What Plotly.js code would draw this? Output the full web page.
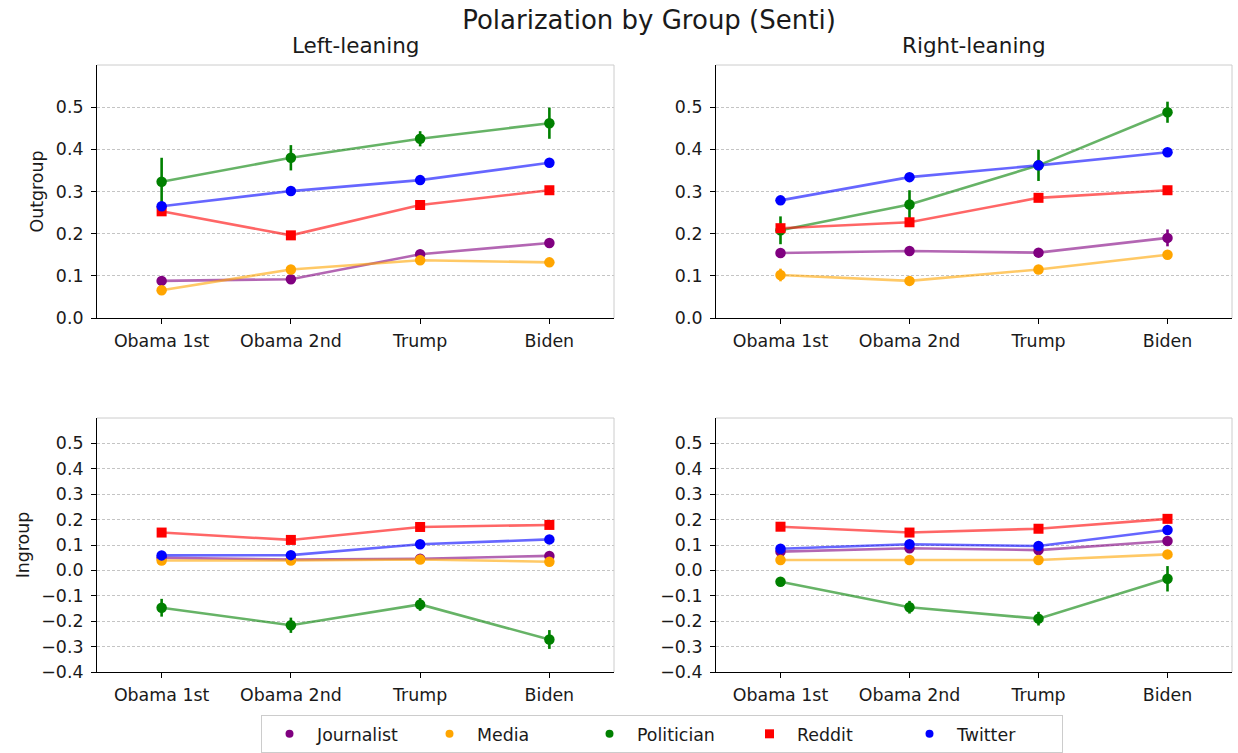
<!DOCTYPE html>
<html>
<head>
<meta charset="utf-8">
<script src="https://cdn.plot.ly/plotly-3.0.1.min.js"></script>
<style>html,body{margin:0;padding:0;background:#fff;}#chart{width:1238px;height:753px;}</style>
</head>
<body>
<div id="chart"></div>
<script>
const categories = ['Obama 1st', 'Obama 2nd', 'Trump', 'Biden'];
const groups = ['Journalist', 'Media', 'Politician', 'Reddit', 'Twitter'];
const panelTitles = ['Left-leaning', 'Right-leaning'];
const rowTitles = ['Outgroup', 'Ingroup'];
const outTicks = [0.0, 0.1, 0.2, 0.3, 0.4, 0.5];
const inTicks = [-0.4, -0.3, -0.2, -0.1, 0.0, 0.1, 0.2, 0.3, 0.4, 0.5];

// Left-leaning, Outgroup
const journalistLeftOut = [0.088, 0.092, 0.151, 0.178];
const mediaLeftOut      = [0.066, 0.115, 0.137, 0.132];
const politicianLeftOut = [0.323, 0.380, 0.425, 0.462];
const redditLeftOut     = [0.253, 0.196, 0.268, 0.303];
const twitterLeftOut    = [0.265, 0.301, 0.327, 0.368];
const journalistLeftOutErr = [0.006, 0.006, 0.006, 0.006];
const mediaLeftOutErr      = [0.006, 0.006, 0.006, 0.006];
const politicianLeftOutErr = [0.057, 0.030, 0.018, 0.037];
const redditLeftOutErr     = [0.003, 0.003, 0.003, 0.003];
const twitterLeftOutErr    = [0.003, 0.003, 0.003, 0.003];

// Right-leaning, Outgroup
const journalistRightOut = [0.154, 0.159, 0.155, 0.190];
const mediaRightOut      = [0.102, 0.088, 0.115, 0.150];
const politicianRightOut = [0.208, 0.269, 0.362, 0.488];
const redditRightOut     = [0.213, 0.227, 0.285, 0.303];
const twitterRightOut    = [0.279, 0.334, 0.362, 0.393];
const journalistRightOutErr = [0.008, 0.008, 0.008, 0.020];
const mediaRightOutErr      = [0.015, 0.006, 0.008, 0.008];
const politicianRightOutErr = [0.033, 0.034, 0.037, 0.025];
const redditRightOutErr     = [0.003, 0.003, 0.003, 0.003];
const twitterRightOutErr    = [0.003, 0.003, 0.003, 0.003];

// Left-leaning, Ingroup
const journalistLeftIn = [0.050, 0.043, 0.046, 0.057];
const mediaLeftIn      = [0.039, 0.039, 0.043, 0.034];
const politicianLeftIn = [-0.147, -0.216, -0.134, -0.272];
const redditLeftIn     = [0.149, 0.120, 0.171, 0.179];
const twitterLeftIn    = [0.059, 0.060, 0.103, 0.122];
const journalistLeftInErr = [0.005, 0.005, 0.005, 0.005];
const mediaLeftInErr      = [0.005, 0.005, 0.005, 0.005];
const politicianLeftInErr = [0.035, 0.030, 0.025, 0.037];
const redditLeftInErr     = [0.003, 0.003, 0.003, 0.003];
const twitterLeftInErr    = [0.003, 0.003, 0.003, 0.003];

// Right-leaning, Ingroup
const journalistRightIn = [0.074, 0.087, 0.080, 0.116];
const mediaRightIn      = [0.041, 0.041, 0.041, 0.063];
const politicianRightIn = [-0.045, -0.145, -0.190, -0.033];
const redditRightIn     = [0.172, 0.149, 0.164, 0.203];
const twitterRightIn    = [0.085, 0.103, 0.096, 0.159];
const journalistRightInErr = [0.008, 0.008, 0.008, 0.010];
const mediaRightInErr      = [0.005, 0.005, 0.005, 0.005];
const politicianRightInErr = [0.016, 0.025, 0.027, 0.050];
const redditRightInErr     = [0.003, 0.003, 0.003, 0.003];
const twitterRightInErr    = [0.003, 0.003, 0.003, 0.003];

const solid = {Journalist: 'rgb(128,0,128)', Media: 'rgb(255,165,0)', Politician: 'rgb(0,128,0)', Reddit: 'rgb(255,0,0)', Twitter: 'rgb(0,0,255)'};
const faded = {Journalist: 'rgba(128,0,128,0.6)', Media: 'rgba(255,165,0,0.6)', Politician: 'rgba(0,128,0,0.6)', Reddit: 'rgba(255,0,0,0.6)', Twitter: 'rgba(0,0,255,0.6)'};
const symbols = {Journalist: 'circle', Media: 'circle', Politician: 'circle', Reddit: 'square', Twitter: 'circle'};

const panels = [
  {xa: 'x',  ya: 'y',  vals: [journalistLeftOut, mediaLeftOut, politicianLeftOut, redditLeftOut, twitterLeftOut], errs: [journalistLeftOutErr, mediaLeftOutErr, politicianLeftOutErr, redditLeftOutErr, twitterLeftOutErr]},
  {xa: 'x2', ya: 'y2', vals: [journalistRightOut, mediaRightOut, politicianRightOut, redditRightOut, twitterRightOut], errs: [journalistRightOutErr, mediaRightOutErr, politicianRightOutErr, redditRightOutErr, twitterRightOutErr]},
  {xa: 'x3', ya: 'y3', vals: [journalistLeftIn, mediaLeftIn, politicianLeftIn, redditLeftIn, twitterLeftIn], errs: [journalistLeftInErr, mediaLeftInErr, politicianLeftInErr, redditLeftInErr, twitterLeftInErr]},
  {xa: 'x4', ya: 'y4', vals: [journalistRightIn, mediaRightIn, politicianRightIn, redditRightIn, twitterRightIn], errs: [journalistRightInErr, mediaRightInErr, politicianRightInErr, redditRightInErr, twitterRightInErr]}
];

const traces = [];
panels.forEach(p => {
  groups.forEach((g, i) => {
    traces.push({
      type: 'scatter', mode: 'lines+markers',
      x: categories, y: p.vals[i], xaxis: p.xa, yaxis: p.ya,
      name: g, showlegend: false, legendgroup: g,
      line: {color: faded[g], width: 2.6},
      marker: {color: solid[g], size: symbols[g] === 'square' ? 10 : 10.5, symbol: symbols[g], line: {width: 0}},
      error_y: {type: 'data', array: p.errs[i], visible: true, color: solid[g], thickness: 2.6, width: 0},
      hoverinfo: 'x+y+name'
    });
  });
});
// legend entries (markers only)
groups.forEach(g => {
  traces.push({
    type: 'scatter', mode: 'markers', x: [null], y: [null], xaxis: 'x', yaxis: 'y',
    name: g, legendgroup: g, showlegend: true,
    marker: {color: solid[g], size: symbols[g] === 'square' ? 9 : 8, symbol: symbols[g], line: {width: 0}}
  });
});

const FS = 17.4;
const TXT = '#1a1a1a';
const FAM = 'DejaVu Sans, sans-serif';
const xDomL = [97/1238, 614/1238], xDomR = [716/1238, 1232/1238];
const yDomT = [1 - 318/753, 1 - 65/753], yDomB = [1 - 672/753, 1 - 418/753];

function xax(dom, anchor) {
  return {domain: dom, anchor: anchor, type: 'category', range: [-0.5, 3.5],
    showline: true, linecolor: '#000', linewidth: 1, ticks: 'outside', ticklen: 5, tickcolor: '#000',
    ticklabelstandoff: 2,
    showgrid: false, zeroline: false, tickfont: {family: FAM, size: FS, color: TXT}, fixedrange: true};
}
function yax(dom, anchor, range, ticks, title) {
  return {domain: dom, anchor: anchor, range: range, tickvals: ticks, tickformat: '.1f',
    showline: true, linecolor: '#000', linewidth: 1, ticks: 'outside', ticklen: 5, tickcolor: '#000',
    ticklabelstandoff: 4,
    showgrid: true, gridcolor: '#c4c4c4', griddash: '3px,2px', gridwidth: 0.8, zeroline: false,
    tickfont: {family: FAM, size: FS, color: TXT},
    title: title ? {text: title, font: {family: FAM, size: FS, color: TXT}, standoff: 7} : undefined,
    fixedrange: true};
}

const shapes = [];
[['x','y'],['x2','y2'],['x3','y3'],['x4','y4']].forEach(([xa, ya]) => {
  shapes.push({type: 'line', xref: xa + ' domain', yref: ya + ' domain', x0: 0, x1: 1, y0: 1, y1: 1, line: {color: '#cccccc', width: 1}});
  shapes.push({type: 'line', xref: xa + ' domain', yref: ya + ' domain', x0: 1, x1: 1, y0: 0, y1: 1, line: {color: '#cccccc', width: 1}});
});

const layout = {
  width: 1238, height: 753,
  margin: {l: 0, r: 0, t: 0, b: 0},
  paper_bgcolor: '#fff', plot_bgcolor: '#fff',
  font: {family: FAM, size: FS, color: TXT},
  title: {text: 'Polarization by Group (Senti)', font: {family: FAM, size: 26, color: TXT}, x: 649/1238, xanchor: 'center', y: 1 - 20/753, yanchor: 'middle'},
  xaxis: xax(xDomL, 'y'), yaxis: yax(yDomT, 'x', [0, 0.6], outTicks, rowTitles[0]),
  xaxis2: xax(xDomR, 'y2'), yaxis2: yax(yDomT, 'x2', [0, 0.6], outTicks, null),
  xaxis3: xax(xDomL, 'y3'), yaxis3: yax(yDomB, 'x3', [-0.4, 0.6], inTicks, rowTitles[1]),
  xaxis4: xax(xDomR, 'y4'), yaxis4: yax(yDomB, 'x4', [-0.4, 0.6], inTicks, null),
  shapes: shapes,
  annotations: [
    {text: panelTitles[0], xref: 'paper', yref: 'paper', x: (xDomL[0] + xDomL[1]) / 2, y: 1 - 46/753, xanchor: 'center', yanchor: 'middle', showarrow: false, font: {family: FAM, size: 21.5, color: TXT}},
    {text: panelTitles[1], xref: 'paper', yref: 'paper', x: (xDomR[0] + xDomR[1]) / 2, y: 1 - 46/753, xanchor: 'center', yanchor: 'middle', showarrow: false, font: {family: FAM, size: 21.5, color: TXT}}
  ],
  showlegend: true,
  legend: {orientation: 'h', x: 662/1238, xanchor: 'center', y: 0, yanchor: 'bottom',
    bordercolor: '#cccccc', borderwidth: 1, bgcolor: '#fff', itemwidth: 45, entrywidth: 100, entrywidthmode: 'pixels',
    font: {family: FAM, size: FS, color: TXT}, traceorder: 'normal', itemclick: false, itemdoubleclick: false},
  hovermode: 'closest'
};

Plotly.newPlot('chart', traces, layout, {displayModeBar: false, responsive: false});
</script>
</body>
</html>
